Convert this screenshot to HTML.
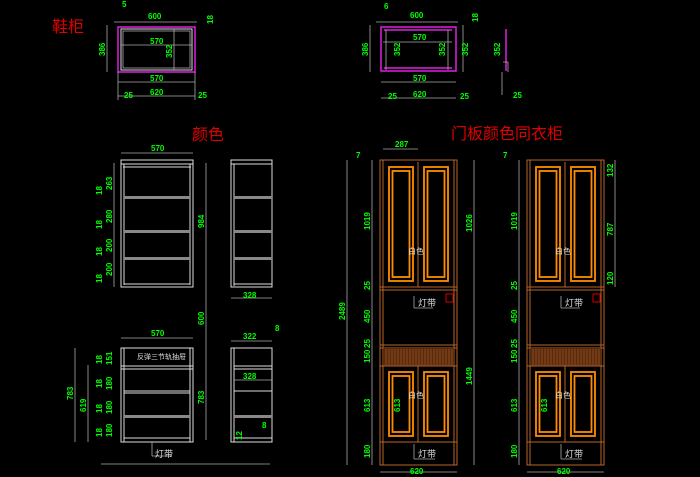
<!DOCTYPE html>
<html><head><meta charset="utf-8"><style>
html,body{margin:0;padding:0;background:#000;width:700px;height:477px;overflow:hidden}
svg{display:block}
.d{fill:#00ff00;font-family:"Liberation Sans",sans-serif;font-size:8px;font-weight:bold}
.r{fill:#e00000;font-family:"Liberation Sans","Noto Sans CJK SC",sans-serif;font-size:16px}
.w{fill:#ddd;font-family:"Liberation Sans","Noto Sans CJK SC",sans-serif;font-size:8px}
.g{stroke:#aaa;stroke-width:.8;fill:none}
.wl{stroke:#ddd;stroke-width:1;fill:none}
.b{stroke:#b8642a;stroke-width:1;fill:none}
.o{stroke:#ff8c00;stroke-width:1.8;fill:none}
.m{stroke:#e020e0;stroke-width:1.5;fill:none}
</style></head><body>
<svg width="700" height="477" viewBox="0 0 700 477" xmlns="http://www.w3.org/2000/svg">
<rect width="700" height="477" fill="#000"/>
<text class="r" x="52" y="32">鞋柜</text>
<text class="r" x="192" y="140">颜色</text>
<text class="r" x="451" y="139">门板颜色同衣柜</text>

<rect class="m" x="118" y="27" width="77" height="45"/>
<rect class="wl" x="121" y="29" width="71" height="41"/>
<rect class="g" x="123" y="31" width="67" height="37"/>
<line class="g" x1="114" y1="22" x2="197" y2="22"/>
<line class="g" x1="107" y1="25" x2="107" y2="72"/>
<line class="g" x1="121" y1="45" x2="192" y2="45"/>
<line class="g" x1="174" y1="29" x2="174" y2="70"/>
<line class="g" x1="118" y1="82" x2="195" y2="82"/>
<line class="g" x1="118" y1="96" x2="195" y2="96"/>
<line class="g" x1="118" y1="72" x2="118" y2="100"/><line class="g" x1="195" y1="72" x2="195" y2="100"/>
<text class="d" x="148" y="19">600</text>
<text class="d" x="122" y="7">5</text>
<text class="d" transform="translate(213,24) rotate(-90)">18</text>
<text class="d" x="150" y="44">570</text>
<text class="d" transform="translate(105,56) rotate(-90)">386</text>
<text class="d" transform="translate(172,58) rotate(-90)">352</text>
<text class="d" x="150" y="81">570</text>
<text class="d" x="150" y="95">620</text>
<text class="d" x="124" y="98">25</text>
<text class="d" x="198" y="98">25</text>

<rect class="m" x="381" y="27" width="75" height="44"/>
<line class="m" x1="384" y1="30" x2="452" y2="30"/>
<line class="m" x1="384" y1="68" x2="452" y2="68"/>
<line class="g" x1="386" y1="30" x2="386" y2="70"/><line class="g" x1="448" y1="30" x2="448" y2="70"/>
<line class="g" x1="376" y1="22" x2="458" y2="22"/>
<line class="g" x1="370" y1="25" x2="370" y2="72"/>
<line class="g" x1="463" y1="25" x2="463" y2="72"/>
<line class="g" x1="383" y1="42" x2="452" y2="42"/>
<line class="g" x1="381" y1="82" x2="456" y2="82"/>
<line class="g" x1="381" y1="98" x2="456" y2="98"/>
<line class="m" x1="506" y1="29" x2="506" y2="71"/>
<line class="g" x1="503" y1="62" x2="508" y2="62"/><line class="g" x1="508" y1="62" x2="508" y2="72"/>
<line class="g" x1="502" y1="72" x2="502" y2="95"/>
<text class="d" x="410" y="18">600</text>
<text class="d" x="384" y="9">6</text>
<text class="d" transform="translate(478,22) rotate(-90)">18</text>
<text class="d" x="413" y="40">570</text>
<text class="d" transform="translate(368,56) rotate(-90)">386</text>
<text class="d" transform="translate(400,56) rotate(-90)">352</text>
<text class="d" transform="translate(445,56) rotate(-90)">352</text>
<text class="d" transform="translate(468,56) rotate(-90)">352</text>
<text class="d" transform="translate(500,56) rotate(-90)">352</text>
<text class="d" x="413" y="81">570</text>
<text class="d" x="413" y="97">620</text>
<text class="d" x="388" y="99">25</text>
<text class="d" x="460" y="99">25</text>
<text class="d" x="513" y="98">25</text>

<rect class="wl" x="121" y="160" width="72" height="127"/>
<line class="wl" x1="121" y1="164" x2="193" y2="164"/>
<line class="wl" x1="123" y1="167" x2="191" y2="167"/>
<line class="wl" x1="124" y1="164" x2="124" y2="285"/><line class="wl" x1="190" y1="164" x2="190" y2="285"/>
<rect x="124" y="196" width="66" height="3" fill="#888"/>
<rect x="124" y="230" width="66" height="3" fill="#888"/>
<rect x="124" y="257" width="66" height="3" fill="#888"/>
<line class="wl" x1="124" y1="284" x2="190" y2="284"/>
<line class="g" x1="121" y1="153" x2="193" y2="153"/>
<text class="d" x="151" y="151">570</text>
<line class="g" x1="114" y1="163" x2="114" y2="287"/>
<text class="d" transform="translate(112,190) rotate(-90)">263</text>
<text class="d" transform="translate(112,223) rotate(-90)">280</text>
<text class="d" transform="translate(112,252) rotate(-90)">200</text>
<text class="d" transform="translate(112,276) rotate(-90)">200</text>
<text class="d" transform="translate(102,195) rotate(-90)">18</text>
<text class="d" transform="translate(102,229) rotate(-90)">18</text>
<text class="d" transform="translate(102,256) rotate(-90)">18</text>
<text class="d" transform="translate(102,283) rotate(-90)">18</text>
<line class="g" x1="206" y1="163" x2="206" y2="440"/>
<text class="d" transform="translate(204,228) rotate(-90)">984</text>
<text class="d" transform="translate(204,325) rotate(-90)">600</text>
<rect class="wl" x="231" y="160" width="41" height="127"/>
<line class="wl" x1="231" y1="164" x2="272" y2="164"/>
<line class="wl" x1="234" y1="164" x2="234" y2="286"/>
<rect x="234" y="196" width="38" height="3" fill="#888"/>
<rect x="234" y="230" width="38" height="3" fill="#888"/>
<rect x="234" y="257" width="38" height="3" fill="#888"/>
<line class="wl" x1="234" y1="284" x2="272" y2="284"/>
<line class="g" x1="231" y1="298" x2="272" y2="298"/>
<text class="d" x="243" y="298">328</text>

<rect class="wl" x="121" y="348" width="72" height="94"/>
<line class="wl" x1="124" y1="348" x2="124" y2="442"/><line class="wl" x1="190" y1="348" x2="190" y2="442"/>
<text class="w" x="137" y="359" style="font-size:7px">反弹三节轨抽屉</text>
<line class="wl" x1="121" y1="366" x2="193" y2="366"/><line class="wl" x1="121" y1="369" x2="193" y2="369"/>
<line class="wl" x1="124" y1="391" x2="190" y2="391"/><line class="wl" x1="124" y1="393" x2="190" y2="393"/>
<rect x="124" y="415" width="66" height="3" fill="#888"/>
<line class="wl" x1="124" y1="438" x2="190" y2="438"/>
<line class="g" x1="121" y1="338" x2="193" y2="338"/>
<text class="d" x="151" y="336">570</text>
<line class="g" x1="75" y1="348" x2="75" y2="442"/>
<line class="g" x1="88" y1="365" x2="88" y2="442"/>
<text class="d" transform="translate(73,400) rotate(-90)">783</text>
<text class="d" transform="translate(86,412) rotate(-90)">619</text>
<text class="d" transform="translate(112,365) rotate(-90)">151</text>
<text class="d" transform="translate(112,390) rotate(-90)">180</text>
<text class="d" transform="translate(112,414) rotate(-90)">180</text>
<text class="d" transform="translate(112,437) rotate(-90)">180</text>
<text class="d" transform="translate(102,364) rotate(-90)">18</text>
<text class="d" transform="translate(102,388) rotate(-90)">18</text>
<text class="d" transform="translate(102,413) rotate(-90)">18</text>
<text class="d" transform="translate(102,437) rotate(-90)">18</text>
<text class="d" transform="translate(204,404) rotate(-90)">783</text>
<line class="g" x1="152" y1="442" x2="152" y2="456"/>
<line class="g" x1="152" y1="456" x2="172" y2="456"/>
<text class="w" x="155" y="457" style="font-size:9px">灯带</text>
<line class="g" x1="101" y1="464" x2="270" y2="464"/>
<rect class="wl" x="231" y="348" width="41" height="94"/>
<line class="wl" x1="234" y1="348" x2="234" y2="442"/>
<line class="wl" x1="234" y1="366" x2="272" y2="366"/><line class="wl" x1="234" y1="369" x2="272" y2="369"/>
<line class="wl" x1="234" y1="391" x2="272" y2="391"/>
<rect x="234" y="415" width="38" height="3" fill="#888"/>
<line class="wl" x1="234" y1="438" x2="272" y2="438"/>
<line class="g" x1="231" y1="341" x2="272" y2="341"/>
<text class="d" x="243" y="339">322</text>
<text class="d" x="275" y="331">8</text>
<line class="g" x1="234" y1="380" x2="272" y2="380"/>
<text class="d" x="243" y="379">328</text>
<text class="d" transform="translate(242,440) rotate(-90)">12</text>
<text class="d" x="262" y="428">8</text>

<defs>
<g id="wd">
<rect class="b" x="380" y="160" width="77" height="305"/>
<line class="b" x1="383" y1="160" x2="383" y2="465"/><line class="b" x1="454" y1="160" x2="454" y2="465"/>
<line class="b" x1="418" y1="162" x2="418" y2="287"/>
<line class="b" x1="380" y1="287" x2="457" y2="287"/><line class="b" x1="380" y1="290" x2="457" y2="290"/>
<rect class="o" x="389" y="167" width="24" height="114"/>
<rect class="o" x="392.5" y="171" width="17" height="106"/>
<rect class="o" x="424" y="167" width="24" height="114"/>
<rect class="o" x="427.5" y="171" width="17" height="106"/>
<line class="g" x1="414" y1="296" x2="414" y2="308"/><line class="g" x1="414" y1="308" x2="433" y2="308"/>
<rect x="446" y="294" width="7" height="8" fill="none" stroke="#d00000" stroke-width="1"/>
<line class="b" x1="380" y1="345" x2="457" y2="345"/><line class="b" x1="380" y1="348" x2="457" y2="348"/>
<rect x="383" y="348" width="71" height="18" fill="#5a2a0c"/>
<path d="M386 349V365M389 349V365M392 349V365M395 349V365M398 349V365M401 349V365M404 349V365M407 349V365M410 349V365M413 349V365M416 349V365M419 349V365M422 349V365M425 349V365M428 349V365M431 349V365M434 349V365M437 349V365M440 349V365M443 349V365M446 349V365M449 349V365M452 349V365" stroke="#a0582a" stroke-width=".7"/>
<line class="b" x1="380" y1="366" x2="457" y2="366"/>
<line class="b" x1="418" y1="366" x2="418" y2="442"/>
<rect class="o" x="389" y="372" width="24" height="64"/>
<rect class="o" x="392.5" y="376" width="17" height="56"/>
<rect class="o" x="424" y="372" width="24" height="64"/>
<rect class="o" x="427.5" y="376" width="17" height="56"/>
<line class="b" x1="380" y1="442" x2="457" y2="442"/>
<line class="g" x1="414" y1="444" x2="414" y2="459"/><line class="g" x1="414" y1="459" x2="435" y2="459"/>
<line class="g" x1="372" y1="160" x2="372" y2="465"/>
<line class="g" x1="380" y1="472" x2="457" y2="472"/>
</g>
</defs>
<use href="#wd"/>
<use href="#wd" transform="translate(147,0)"/>
<line class="g" x1="383" y1="149" x2="418" y2="149"/>
<text class="d" x="395" y="147">287</text>
<line class="g" x1="347" y1="160" x2="347" y2="465"/>
<line class="g" x1="474" y1="160" x2="474" y2="465"/>
<text class="w" x="408" y="254">白色</text>
<text class="w" x="418" y="306" style="font-size:9px">灯带</text>
<text class="w" x="408" y="398">白色</text>
<text class="w" x="418" y="457" style="font-size:9px">灯带</text>
<text class="d" x="356" y="158">7</text>
<text class="d" transform="translate(370,230) rotate(-90)">1019</text>
<text class="d" transform="translate(370,290) rotate(-90)">25</text>
<text class="d" transform="translate(370,323) rotate(-90)">450</text>
<text class="d" transform="translate(370,348) rotate(-90)">25</text>
<text class="d" transform="translate(370,363) rotate(-90)">150</text>
<text class="d" transform="translate(370,412) rotate(-90)">613</text>
<text class="d" transform="translate(370,458) rotate(-90)">180</text>
<text class="d" transform="translate(345,320) rotate(-90)">2489</text>
<text class="d" transform="translate(472,232) rotate(-90)">1026</text>
<text class="d" transform="translate(472,385) rotate(-90)">1449</text>
<text class="d" transform="translate(400,412) rotate(-90)">613</text>
<text class="d" x="410" y="474">620</text>
<text class="w" x="555" y="254">白色</text>
<text class="w" x="565" y="306" style="font-size:9px">灯带</text>
<text class="w" x="555" y="398">白色</text>
<text class="w" x="565" y="457" style="font-size:9px">灯带</text>
<text class="d" x="503" y="158">7</text>
<text class="d" transform="translate(517,230) rotate(-90)">1019</text>
<text class="d" transform="translate(517,290) rotate(-90)">25</text>
<text class="d" transform="translate(517,323) rotate(-90)">450</text>
<text class="d" transform="translate(517,348) rotate(-90)">25</text>
<text class="d" transform="translate(517,363) rotate(-90)">150</text>
<text class="d" transform="translate(517,412) rotate(-90)">613</text>
<text class="d" transform="translate(517,458) rotate(-90)">180</text>
<text class="d" transform="translate(547,412) rotate(-90)">613</text>
<line class="g" x1="615" y1="160" x2="615" y2="287"/>
<text class="d" transform="translate(613,177) rotate(-90)">132</text>
<text class="d" transform="translate(613,236) rotate(-90)">787</text>
<text class="d" transform="translate(613,285) rotate(-90)">120</text>
<text class="d" x="557" y="474">620</text>
</svg>
</body></html>
